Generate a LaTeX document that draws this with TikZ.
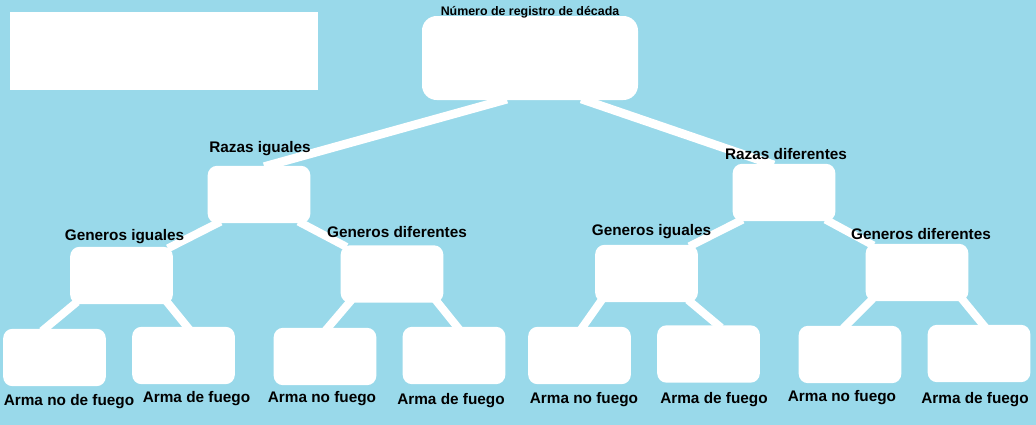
\documentclass[tikz,border=0pt]{standalone}
\usepackage{fontspec}
\setmainfont{Liberation Sans}
\usetikzlibrary{backgrounds}
\definecolor{fondo}{RGB}{153,217,234}
\begin{document}
\begin{tikzpicture}[x=.75pt,y=-.75pt,line join=round,
	caja/.style={fill=white,rounded corners=7pt,minimum width=77pt,minimum height=43pt,inner sep=0},
	rama/.style={white,line width=6pt,shorten <=-3pt,shorten >=-3pt},
	txt/.style={font=\bfseries\fontsize{11.5}{13}\selectfont,inner sep=0}]
	\begin{scope}[on background layer]
	\fill[fondo] (0,0) rectangle (1036,425);
	\end{scope}
	\fill[white] (10,12) rectangle (318,90);
	\node[caja,rounded corners=11pt,minimum width=162pt,minimum height=63pt](N) at (530,58){};
	\foreach \i/\x/\y in {RI/259/194.5,RD/784/192.5,GI1/121.5/275.5,GD1/392/274,GI2/646.5/273.5,GD2/917/272.5,A1/54.5/357.5,A2/183.5/355.5,A3/325/356.5,A4/454/355.5,A5/579.5/355.5,A6/708.5/354,A7/850/354.5,A8/979/353.5}
	\node[caja](\i) at (\x,\y){};
	\begin{scope}[on background layer]
	\foreach \a/\b/\s/\e in {N/RI/-27/9,N/RD/55/-14}
	\draw[rama,line width=6.5pt]([xshift=\s*.75pt]\a.south)--([xshift=\e*.75pt]\b.north);
	\foreach \a/\b/\s/\e in {RI/GI1/-42/50,RI/GD1/43/-49,RD/GI2/-45/46.5,RD/GD2/45/-47,GI1/A1/-47.5/-9.5,GI1/A2/47.5/3.5,GD1/A3/-43/3,GD1/A4/46/3,GI2/A5/-46.5/3.5,GI2/A6/44.5/9.5,GD2/A7/-47/-4,GD2/A8/47/4}
	\draw[rama]([xshift=\s*.75pt]\a.south)--([xshift=\e*.75pt]\b.north);
	\end{scope}
	\node[txt,font=\bfseries\fontsize{9.3}{11}\selectfont](tN) at (530,12){Número de registro de década};
	\foreach \i/\x/\y/\t in {tRI/260/149/Razas iguales,tRD/786/154/Razas diferentes,tGI1/124.5/237/Generos iguales,tGD1/397/232/Generos diferentes,tGI2/651.5/232/Generos iguales,tGD2/921/234/Generos diferentes,tA1/69/402/Arma no de fuego,tA2/196.5/399/Arma de fuego,tA3/322/399/Arma no fuego,tA4/451/401/Arma de fuego,tA5/584/400/Arma no fuego,tA6/714/400/Arma de fuego,tA7/842/398/Arma no fuego,tA8/975/400/Arma de fuego}
	\node[txt](\i) at (\x,\y){\t};
\end{tikzpicture}
\end{document}
